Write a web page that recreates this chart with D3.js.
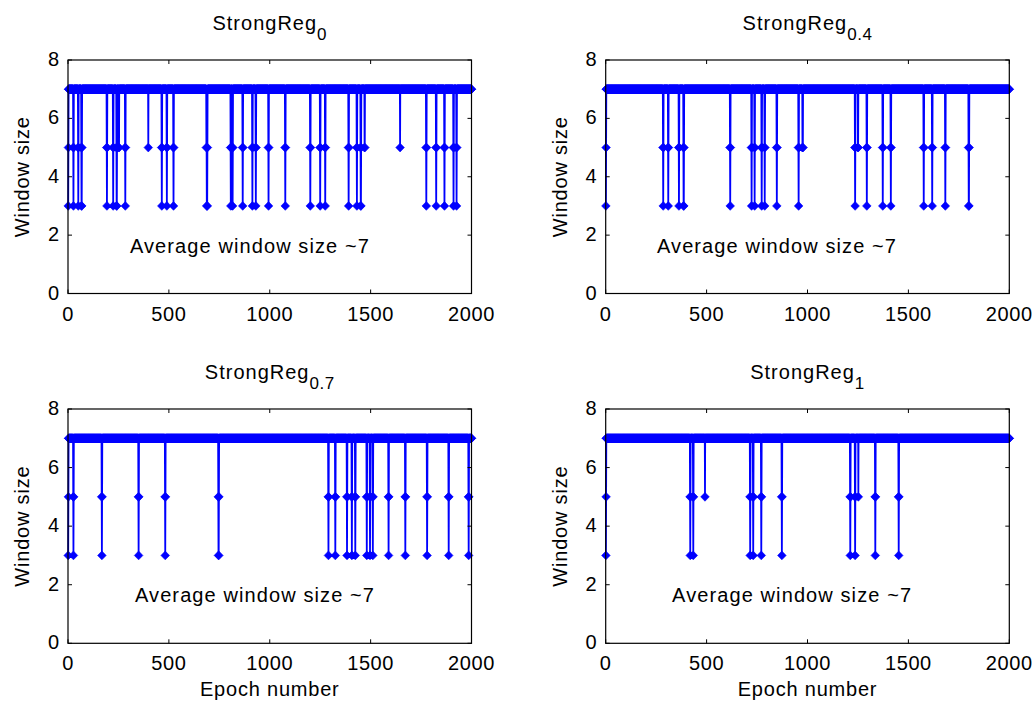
<!DOCTYPE html>
<html><head><meta charset="utf-8">
<script src="https://cdn.jsdelivr.net/npm/d3@7"></script>
<style>body{margin:0;background:#fff}svg{display:block}</style>
</head><body><svg id="c" width="1036" height="709"></svg>
<script>
// ---------------- data ----------------
const titleMain = ["StrongReg", "StrongReg", "StrongReg", "StrongReg"];
const titleSub = ["0", "0.4", "0.7", "1"];
const xTicks = [0, 500, 1000, 1500, 2000];
const yTicks = [0, 2, 4, 6, 8];
const xLabel = "Epoch number";
const yLabel = "Window size";
const noteText = "Average window size ~7";
const noteX = [307, 254, 332, 329];   // epoch where the note starts
const noteY = [1.4, 1.4, 1.4, 1.4];   // window-size value of the note baseline
const nEpochs = 2000;
const baseValue = 7;                   // window size held between the dips
const startValues = [[3, 5], [3, 5], [3, 5], [3, 5]];
// dips: [first epoch, values taken at consecutive epochs]
const dips0 = [
  [26, [5, 3, 5]], [50, [5, 3, 5]], [66, [5, 3, 3, 5]], [192, [5, 3, 5]], [223, [5, 3, 5]],
  [240, [5, 3, 3, 5]], [252, [5, 5]], [283, [5, 3, 5]], [398, [5]], [464, [5, 3, 5]],
  [489, [5, 3, 5]], [522, [5, 3, 5]], [686, [5, 5, 3, 3, 3, 5]], [806, [5, 3, 5]], [815, [5, 3, 5]],
  [865, [5, 3, 5]], [913, [5, 3, 5]], [930, [5, 3, 5]], [993, [5, 3, 5]], [1076, [5, 3, 5]],
  [1200, [5, 3, 5]], [1249, [5, 3, 5]], [1274, [5, 3, 5]], [1390, [5, 3, 5]], [1431, [5, 3, 5]],
  [1450, [5, 3, 3, 5]], [1470, [5, 5]], [1646, [5]], [1775, [5, 3, 5]], [1824, [5, 3, 5]],
  [1865, [5, 3, 5]], [1910, [5, 3, 5]], [1925, [5, 3, 5]]
];
const dips1 = [
  [284, [5, 3, 5]], [309, [5, 3, 5]], [362, [5, 3, 5]], [385, [5, 3, 3, 5]], [616, [5, 3, 5]],
  [722, [5, 3, 5]], [737, [5, 3, 5]], [772, [5, 3, 5]], [787, [5, 3, 5]], [847, [5, 3, 5]],
  [955, [5, 3, 5]], [975, [5, 5, 5]], [1235, [5, 3, 5]], [1250, [5, 5]], [1293, [5, 3, 5]],
  [1372, [5, 3, 5]], [1412, [5, 3, 5]], [1575, [5, 3, 5]], [1617, [5, 3, 5]], [1682, [5, 3, 5]],
  [1798, [5, 3, 3, 5]]
];
const dips2 = [
  [26, [5, 3, 5]], [167, [5, 3, 5]], [349, [5, 3, 5]], [481, [5, 3, 5]], [745, [5, 3, 3, 5]],
  [1290, [5, 3, 5]], [1324, [5, 3, 5]], [1382, [5, 3, 5]], [1406, [5, 3, 5]], [1423, [5, 3, 5]],
  [1480, [5, 3, 5]], [1496, [5, 3, 5]], [1510, [5, 3, 5]], [1588, [5, 3, 5]], [1671, [5, 3, 5]],
  [1779, [5, 3, 5]], [1886, [5, 3, 5]], [1985, [5, 3, 5]]
];
const dips3 = [
  [418, [5, 3, 5]], [433, [5, 3, 5]], [492, [5]], [715, [5, 3, 5]], [730, [5, 3, 5]],
  [770, [5, 3, 5]], [872, [5, 3, 5]], [1211, [5, 3, 5]], [1235, [5, 3, 5]], [1252, [5]],
  [1335, [5, 3, 5]], [1451, [5, 3, 5]]
];
const allDips = [dips0, dips1, dips2, dips3];

// ---------------- layout ----------------
const panels = [
  {l: 68, r: 471.5, t: 60, b: 293.5},
  {l: 605.7, r: 1009.3, t: 60, b: 293.5},
  {l: 68, r: 471.5, t: 409, b: 643.3},
  {l: 605.7, r: 1009.3, t: 409, b: 643.3}
];
const blue = "#0000ff";
const font = "'Liberation Sans', Arial, sans-serif";
const svg = d3.select("#c");
svg.append("rect").attr("width", 1036).attr("height", 709).attr("fill", "#fff");

function buildSeries(i) {
  const vals = new Array(nEpochs).fill(baseValue);
  startValues[i].forEach((v, k) => { vals[k] = v; });
  allDips[i].forEach(([e, seq]) => seq.forEach((v, k) => {
    const idx = e - 1 + k; if (idx < nEpochs) vals[idx] = v;
  }));
  return vals.map((v, k) => ({x: k + 1, y: v}));
}

panels.forEach((p, i) => {
  const x = d3.scaleLinear().domain([0, 2000]).range([p.l, p.r]);
  const y = d3.scaleLinear().domain([0, 8]).range([p.b, p.t]);
  const g = svg.append("g");
  const data = buildSeries(i);

  const clipId = "clip" + i;
  g.append("clipPath").attr("id", clipId).append("rect")
    .attr("x", p.l - 6).attr("y", p.t - 6).attr("width", p.r - p.l + 12).attr("height", p.b - p.t + 12);
  const dg = g.append("g").attr("clip-path", `url(#${clipId})`);

  // line
  dg.append("path").attr("d", d3.line().x(d => x(d.x)).y(d => y(d.y))(data))
    .attr("fill", "none").attr("stroke", blue).attr("stroke-width", 1.8);
  // diamond markers
  const hw = 4.3, hh = 4.4;
  let s = "";
  data.forEach(d => {
    const cx = x(d.x), cy = y(d.y);
    s += `M${cx.toFixed(2)},${(cy - hh).toFixed(2)}L${(cx + hw).toFixed(2)},${cy.toFixed(2)}L${cx.toFixed(2)},${(cy + hh).toFixed(2)}L${(cx - hw).toFixed(2)},${cy.toFixed(2)}Z`;
  });
  dg.append("path").attr("d", s).attr("fill", blue).attr("stroke", blue).attr("stroke-width", 0.6);

  // box
  g.append("rect").attr("x", p.l).attr("y", p.t).attr("width", p.r - p.l).attr("height", p.b - p.t)
    .attr("fill", "none").attr("stroke", "#000").attr("stroke-width", 1.2);

  // ticks (inward, both sides)
  const tl = 4;
  xTicks.forEach(v => {
    g.append("line").attr("x1", x(v)).attr("x2", x(v)).attr("y1", p.b).attr("y2", p.b - tl).attr("stroke", "#000");
    g.append("line").attr("x1", x(v)).attr("x2", x(v)).attr("y1", p.t).attr("y2", p.t + tl).attr("stroke", "#000");
    g.append("text").attr("x", x(v)).attr("y", p.b + 27).attr("text-anchor", "middle")
      .attr("font-family", font).attr("font-size", 20).attr("letter-spacing", 0.6).text(v);
  });
  yTicks.forEach(v => {
    g.append("line").attr("x1", p.l).attr("x2", p.l + tl).attr("y1", y(v)).attr("y2", y(v)).attr("stroke", "#000");
    g.append("line").attr("x1", p.r).attr("x2", p.r - tl).attr("y1", y(v)).attr("y2", y(v)).attr("stroke", "#000");
    g.append("text").attr("x", p.l - 9).attr("y", y(v) + 6).attr("text-anchor", "end")
      .attr("font-family", font).attr("font-size", 20).text(v);
  });

  // title
  const t = g.append("text").attr("x", (p.l + p.r) / 2).attr("y", p.t - 30).attr("text-anchor", "middle")
    .attr("font-family", font).attr("font-size", 20).attr("letter-spacing", 1);
  t.append("tspan").text(titleMain[i]);
  t.append("tspan").attr("dy", 10).attr("font-size", 17).attr("letter-spacing", 0.5).text(titleSub[i]);

  // y label
  g.append("text").attr("transform", `translate(${p.l - 39},${(p.t + p.b) / 2}) rotate(-90)`)
    .attr("text-anchor", "middle").attr("font-family", font).attr("font-size", 20).attr("letter-spacing", 0.8).text(yLabel);

  // x label on bottom row
  if (i >= 2) {
    g.append("text").attr("x", (p.l + p.r) / 2).attr("y", p.b + 53).attr("text-anchor", "middle")
      .attr("font-family", font).attr("font-size", 20).attr("letter-spacing", 0.8).text(xLabel);
  }

  // note
  g.append("text").attr("x", x(noteX[i])).attr("y", y(noteY[i]))
    .attr("font-family", font).attr("font-size", 20).attr("letter-spacing", 1.1).text(noteText);
});
</script>
</body></html>
